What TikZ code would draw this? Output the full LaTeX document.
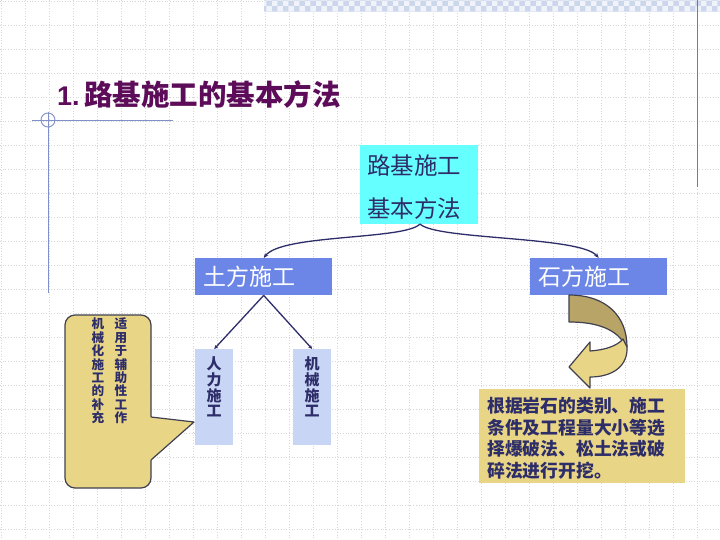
\documentclass[tikz,border=0pt]{standalone}
\usepackage{fontspec}
\setmainfont{Liberation Sans}
\newfontfamily\cjk{Noto Sans CJK SC}
\usetikzlibrary{arrows.meta,patterns}
\definecolor{navy}{RGB}{45,45,105}
\definecolor{cyanbox}{RGB}{102,255,255}
\definecolor{bluebox}{RGB}{108,134,232}
\definecolor{paleblue}{RGB}{201,213,245}
\definecolor{sand}{RGB}{233,213,134}
\definecolor{khaki}{RGB}{184,164,102}
\definecolor{outl}{RGB}{64,64,80}
\definecolor{titlec}{RGB}{92,12,88}
\definecolor{deco}{RGB}{128,144,200}
\definecolor{band}{RGB}{205,215,236}
\tikzset{
  gridline/.style={dotted,draw=black!16,line width=0.7pt},
  topbox/.style={fill=cyanbox,anchor=north west,minimum width=118pt,minimum height=79pt,inner sep=0pt},
  midbox/.style={fill=bluebox,anchor=north west,minimum width=137pt,minimum height=37pt,inner sep=0pt},
  midtext/.style={text=white,font=\cjk\fontsize{23}{23}\selectfont,anchor=west,inner sep=0pt},
  lowbox/.style={fill=paleblue,anchor=north west,minimum width=38pt,minimum height=96pt,inner sep=0pt},
  vtext/.style={text=navy,align=center,font=\cjk\bfseries\fontsize{15}{15.8}\selectfont,inner sep=0pt},
  calltext/.style={text=navy,align=center,font=\cjk\bfseries\fontsize{12.6}{13.4}\selectfont,inner sep=0pt},
  conn/.style={draw=navy,line width=1.3pt,-{Stealth[length=5pt,width=4pt]}},
  deco line/.style={draw=deco,line width=0.9pt}
}
\begin{document}
\begin{tikzpicture}[x=1pt,y=-1pt]
\useasboundingbox (0,0) rectangle (720,540);
\fill[white] (0,0) rectangle (720,540);
% grid
\foreach \i in {0,...,30} {\draw[gridline] (24*\i+1,0) -- (24*\i+1,540);}
\foreach \j in {0,...,22} {\draw[gridline] (0,24*\j+1) -- (720,24*\j+1);}
% top band and decorations
\fill[band] (264,0) rectangle (720,12);
\fill[pattern=checkerboard,pattern color=white!70!band] (264,0) rectangle (720,12);
\draw[deco line,draw=deco!85!black] (697,0) -- (697,187);
\draw[deco line] (32,120) -- (173,120);
\draw[deco line] (48,112) -- (48,293);
\draw[deco line] (48,120) circle (7);
% title
\node[anchor=west,inner sep=0pt,text=titlec] (title) at (57,95)
  {\fontsize{27}{27}\selectfont\bfseries 1.\,\cjk\bfseries\fontsize{28.5}{28.5}\selectfont 路基施工的基本方法};
% top box
\node[topbox] (root) at (360,145) {};
\node[anchor=west,inner sep=0pt,text=navy,font=\cjk\fontsize{23.5}{23.5}\selectfont] (r1) at (367,166) {路基施工};
\node[anchor=west,inner sep=0pt,text=navy,font=\cjk\fontsize{23.5}{23.5}\selectfont] (r2) at (367,209) {基本方法};
\coordinate (apex) at (420,224);
% second level
\node[midbox] (tufang) at (195,258) {};
\node[midtext] (tuf) at (203,277) {土方施工};
\node[midbox] (shifang) at (530,258) {};
\node[midtext] (shf) at (538,277) {石方施工};
\draw[conn] (apex) .. controls (405,240) and (282,234) .. (tufang.north);
\draw[conn] (apex) .. controls (436,240) and (580,236) .. (shifang.north);
% third level
\node[lowbox] (renli) at (195,349) {};
\node[vtext] (renlit) at (214,387) {人\\力\\施\\工};
\node[lowbox] (jixie) at (293,349) {};
\node[vtext] (jixiet) at (312,387) {机\\械\\施\\工};
\draw[conn,-{Stealth[length=4pt,width=3.5pt]}] (tufang.south) -- (renli.north);
\draw[conn,-{Stealth[length=4pt,width=3.5pt]}] (tufang.south) -- (jixie.north);
% callout
\draw[fill=sand,draw=outl,line width=1.2pt,rounded corners=10pt]
  (151,417) -- (151,315) -- (65,315) -- (65,488) -- (151,488) -- (151,460);
\fill[sand] (149,417) -- (194,422) -- (151,460) -- (149,460) -- cycle;
\draw[draw=outl,line width=1.2pt,line join=round] (151,417) -- (194,422) -- (151,460);
\node[calltext] (callr) at (121,371) {适\\用\\于\\辅\\助\\性\\工\\作};
\node[calltext] (calll) at (98,371) {机\\械\\化\\施\\工\\的\\补\\充};
% U-turn arrow
\draw[fill=khaki,draw=outl,line width=1.2pt,line join=round]
  (569,295) .. controls (606,295) and (627,316) .. (627,347)
  -- (622,340) .. controls (612,328) and (595,322) .. (569,322) -- cycle;
\draw[fill=sand,draw=outl,line width=1.2pt,line join=round]
  (590,351) .. controls (605,350) and (617,346) .. (623,339)
  -- (627,347) .. controls (628,365) and (614,377) .. (590,377)
  -- (590,388) -- (569,367) -- (590,342) -- cycle;
% text box
\node[fill=sand,anchor=north west,minimum width=206pt,minimum height=94pt,inner sep=0pt] (rock) at (479,389) {};
\node[anchor=north west,inner sep=0pt,align=left,text=navy,font=\cjk\bfseries\fontsize{17.8}{21.5}\selectfont] (rockt) at (487,397)
  {根据岩石的类别、施工\\条件及工程量大小等选\\择爆破法、松土法或破\\碎法进行开挖。};
\end{tikzpicture}
\end{document}
